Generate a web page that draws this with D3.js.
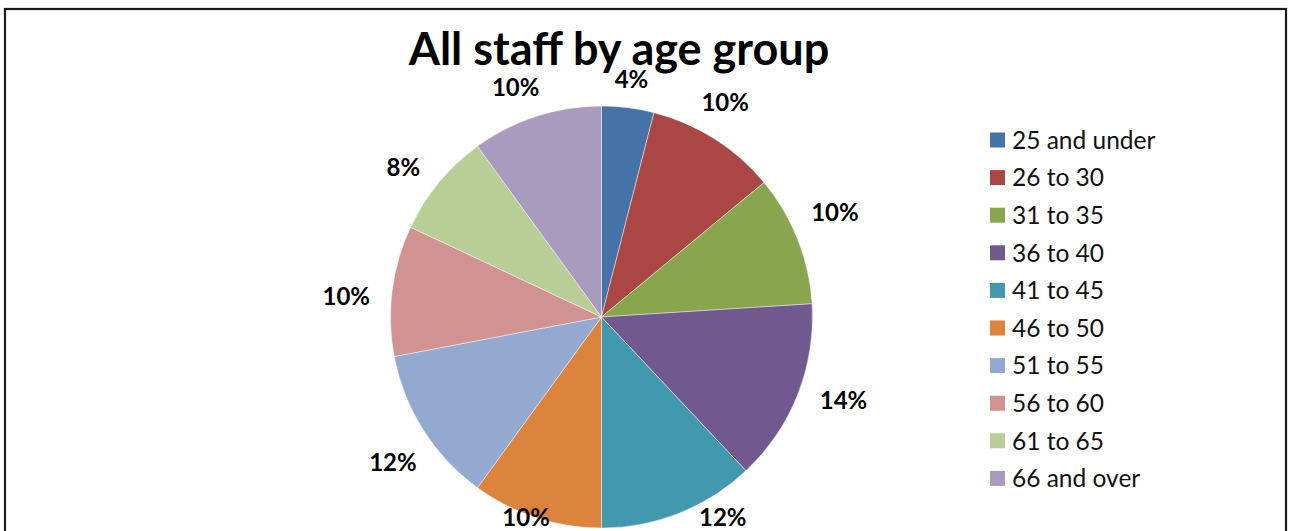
<!DOCTYPE html>
<html>
<head>
<meta charset="utf-8">
<script src="https://cdn.jsdelivr.net/npm/d3@7"></script>
<style>
  html, body { margin: 0; padding: 0; background: #fff; }
  svg { display: block; }
</style>
</head>
<body>
<svg id="chart" width="1290" height="531"></svg>
<script>
// Age groups and the share of staff in each (percent)
const categories = ["25 and under", "26 to 30", "31 to 35", "36 to 40", "41 to 45",
                    "46 to 50", "51 to 55", "56 to 60", "61 to 65", "66 and over"];
const shares = [4, 10, 10, 14, 12, 10, 12, 10, 8, 10];
const colors = ["#4572A7", "#AA4643", "#89A54E", "#71588F", "#4198AF",
                "#DB843D", "#93A9CF", "#D19392", "#B9CD96", "#A99BBD"];
const titleText = "All staff by age group";

const font = "Lato, 'Open Sans', sans-serif";
const svg = d3.select("#chart");

// chart frame
svg.append("rect")
  .attr("x", 5).attr("y", 9)
  .attr("width", 1281).attr("height", 600)
  .attr("fill", "#fff")
  .attr("stroke", "#1c1c1c")
  .attr("stroke-width", 2.2);

// title
const titleBaseline = 64.5, titleSize = 45;
const title = svg.append("text")
  .attr("x", 619).attr("y", titleBaseline)
  .attr("text-anchor", "middle")
  .attr("font-family", font)
  .attr("font-weight", 700)
  .attr("font-size", titleSize)
  .attr("fill", "#000")
  .text(titleText);
const titleBottom = titleBaseline + titleSize * 0.22;

// pie
const cx = 601.5, cy = 317, radius = 211;
const data = categories.map((c, i) => ({ category: c, value: shares[i], color: colors[i] }));
const pie = d3.pie().value(d => d.value).sort(null);
const arc = d3.arc().innerRadius(0).outerRadius(radius);
const arcs = pie(data);

const g = svg.append("g").attr("transform", `translate(${cx},${cy})`);
g.selectAll("path.slice")
  .data(arcs)
  .join("path")
  .attr("class", "slice")
  .attr("d", arc)
  .attr("fill", d => d.data.color)
  .attr("stroke", "rgba(255,255,255,0.55)")
  .attr("stroke-width", 0.8);

// percentage labels: each label box sits a fixed gap outside the rim,
// slightly counter-clockwise of the slice's middle, and stays inside the frame
const labelSize = 24;
const labelGap = 21, labelHalfH = 5;
const labelTurn = -2.5 * Math.PI / 180;
const maxLabelY = 517 - cy;
const labels = g.selectAll("text.pct")
  .data(arcs)
  .join("text")
  .attr("class", "pct")
  .attr("font-family", font)
  .attr("font-weight", 700)
  .attr("font-size", labelSize)
  .attr("fill", "#000")
  .attr("text-anchor", "middle")
  .text(d => d3.format(".0%")(d.data.value / d3.sum(shares)));

function labelPoint(a, hw) {
  const s = Math.sin(a), c = Math.cos(a);
  const dist = radius + labelGap + hw * Math.abs(s) + labelHalfH * Math.abs(c);
  return [dist * s, -dist * c];
}

labels.each(function(d) {
  const mid = (d.startAngle + d.endAngle) / 2;
  const hw = this.getComputedTextLength() / 2;
  let [x, y] = labelPoint(mid + labelTurn, hw);
  // a label tucked under the title goes back onto its middle ray
  if (cy + y - labelSize * 0.36 < titleBottom) {
    [x, y] = labelPoint(mid, hw);
  }
  if (y > maxLabelY) {
    // held up by the frame: sit on the middle ray, clear of the rim sideways
    x = labelPoint(mid, hw)[0];
    y = maxLabelY;
    const top = y - 8;
    const rimX = Math.sqrt(Math.max(0, radius * radius - top * top));
    if (Math.abs(x) > rimX) x = Math.sign(x) * (rimX + hw + 10);
  }
  d3.select(this)
    .attr("x", x)
    .attr("y", y + labelSize * 0.36);
});

// legend
const legendX = 990, legendY0 = 140, legendStep = 37.6, legendSize = 24.5;
const legend = svg.append("g");
const rows = legend.selectAll("g.row")
  .data(data)
  .join("g")
  .attr("class", "row")
  .attr("transform", (d, i) => `translate(${legendX},${legendY0 + i * legendStep})`);
rows.append("rect")
  .attr("x", 0).attr("y", -7.5)
  .attr("width", 15).attr("height", 15)
  .attr("fill", d => d.color);
rows.append("text")
  .attr("x", 22)
  .attr("y", legendSize * 0.36)
  .attr("font-family", font)
  .attr("font-size", legendSize)
  .attr("fill", "#111")
  .text(d => d.category);
</script>
</body>
</html>
